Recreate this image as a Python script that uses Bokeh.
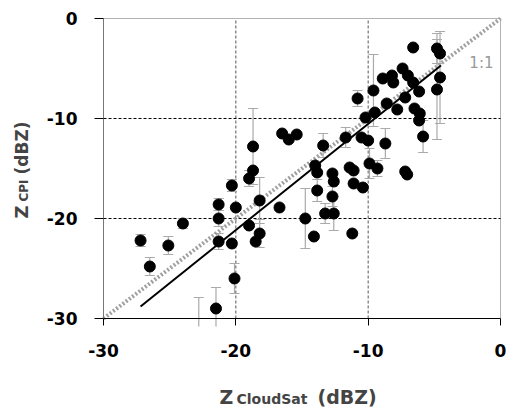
import math
from bokeh.plotting import figure
from bokeh.models import (Range1d, FixedTicker, Label, Whisker, TeeHead, ColumnDataSource,
                          BoxAnnotation)
from bokeh.embed import file_html
from bokeh.resources import INLINE

# ---- data ----
z_cloudsat = [-27.2, -26.5, -25.1, -24.0, -22.8, -21.5, -21.3, -21.3, -21.3, -20.3,
              -20.0, -20.3, -19.0, -18.7, -18.7, -18.2, -19.0, -18.2, -18.5, -16.7,
              -16.5, -16.0, -15.4, -14.75, -14.1, -14.0, -13.85, -13.85, -13.4, -12.7,
              -12.6, -12.7, -13.25, -12.6, -11.7, -11.4, -11.1, -11.2, -11.1, -10.4,
              -10.5, -10.0, -9.9, -9.3, -8.7, -10.2, -9.5, -10.8, -9.6, -8.9,
              -8.2, -7.4, -8.1, -7.0, -6.6, -6.15, -7.2, -7.8, -6.5, -6.1,
              -6.15, -8.6, -6.6, -4.8, -4.57, -4.57, -4.8, -5.85, -7.2, -7.05,
              -20.1]
z_cpi = [-22.2, -24.8, -22.7, -20.5, -31.1, -29.0, -18.6, -20.0, -22.3, -22.5,
         -18.9, -16.7, -16.0, -15.2, -12.8, -18.2, -20.7, -21.5, -22.3, -18.9,
         -11.5, -12.1, -11.6, -20.0, -21.8, -14.7, -15.4, -17.2, -12.7, -15.5,
         -16.3, -17.8, -19.5, -19.5, -11.9, -14.9, -15.2, -21.5, -16.5, -16.9,
         -11.9, -12.2, -14.5, -15.0, -12.5, -9.9, -9.4, -8.0, -7.2, -6.0,
         -5.7, -5.0, -6.4, -5.7, -6.4, -7.3, -7.9, -9.1, -9.0, -9.5,
         -10.2, -8.5, -2.9, -3.0, -3.5, -5.9, -7.1, -11.8, -15.3, -15.6,
         -26.0]
z_cpi_err = [0.6, 0.9, 0.9, 0.5, 3.2, 2.1, 0.6, 0.8, 0.8, 0.0,
             0.0, 0.6, 0.8, 0.0, 3.8, 2.3, 0.0, 1.4, 0.0, 0.0,
             0.0, 0.0, 0.0, 3.0, 0.0, 0.0, 0.0, 1.1, 1.2, 0.0,
             0.0, 1.0, 1.0, 1.7, 1.0, 0.0, 0.0, 0.0, 0.0, 0.0,
             0.0, 0.0, 1.5, 0.8, 1.5, 0.0, 0.0, 0.8, 3.6, 0.0,
             0.0, 0.0, 0.0, 0.0, 0.0, 0.0, 0.0, 0.0, 0.0, 0.0,
             0.0, 0.0, 0.0, 1.5, 0.0, 4.6, 5.0, 1.6, 0.0, 0.0,
             1.5]
one_to_one_x = [-30, 0]
one_to_one_y = [-30, 0]
fit_x = [-27.2, -4.5]
fit_y = [-28.8, -4.7]
ticks = [-30, -20, -10, 0]
tick_labels = {-30: "-30", -20: "-20", -10: "-10", 0: "0"}
axis_min, axis_max = -30, 0

FONT = "DejaVu Sans"
W, H = 508, 408
PX_LEFT, PX_RIGHT, PX_TOP, PX_BOTTOM = 103, 500, 18, 318   # plot box in the page
sx = (PX_RIGHT - PX_LEFT) / (axis_max - axis_min)
sy = (PX_BOTTOM - PX_TOP) / (axis_max - axis_min)
x_start = axis_min - PX_LEFT / sx
x_end = axis_max + (W - PX_RIGHT) / sx
y_end = axis_max + PX_TOP / sy
y_start = axis_min - (H - PX_BOTTOM) / sy
clip_y = axis_min - 8 / sy          # error bars are cut 8px below the box

def px_x(px):   # page pixel -> data x (for placing titles)
    return x_start + px / sx

def px_y(py):
    return y_end - py / sy

p = figure(frame_width=W, frame_height=H,
           min_border_left=0, min_border_right=0, min_border_top=0, min_border_bottom=0,
           x_range=Range1d(x_start, x_end), y_range=Range1d(y_start, y_end),
           output_backend="svg", toolbar_location=None,
           background_fill_color="white", border_fill_color="white")
p.outline_line_color = None
p.xgrid.visible = False
p.ygrid.visible = False

for ax in (p.xaxis[0], p.yaxis[0]):
    ax.fixed_location = axis_min
    ax.bounds = (axis_min, axis_max)
    ax.ticker = FixedTicker(ticks=ticks)
    ax.major_label_overrides = tick_labels
    ax.minor_tick_line_color = None
    ax.major_tick_in = 0
    ax.major_label_text_font = FONT
    ax.major_label_text_font_style = "bold"
    ax.major_label_text_font_size = "17px"
    ax.major_label_text_color = "black"
    ax.major_tick_line_color = "black"
    ax.axis_line_color = "black"
p.xaxis.major_tick_out = 7
p.xaxis.major_label_standoff = 18
p.yaxis.major_tick_out = 9
p.yaxis.major_label_standoff = 17
p.yaxis.axis_line_color = "#777777"

# grid lines inside the box only
inner = [t for t in ticks if axis_min < t < axis_max]
p.segment(x0=inner, y0=[axis_min] * len(inner), x1=inner, y1=[axis_max] * len(inner),
          line_color="#555555", line_dash="3 2", line_width=1, level="image")
p.segment(x0=[axis_min] * len(inner), y0=inner, x1=[axis_max] * len(inner), y1=inner,
          line_color="black", line_dash="3 2", line_width=1, level="image")

# plot box
p.add_layout(BoxAnnotation(left=axis_min, right=axis_max, bottom=axis_min, top=axis_max,
                           fill_color=None, fill_alpha=0, line_color="black", line_width=1,
                           level="underlay"))

# error bars (cut at the bottom edge like the original)
full = dict(x=[], lower=[], upper=[])
cut = dict(x=[], lower=[], upper=[])
for x, y, e in zip(z_cloudsat, z_cpi, z_cpi_err):
    if e <= 0:
        continue
    if y - e < clip_y:
        cut["x"].append(x); cut["lower"].append(clip_y); cut["upper"].append(y + e)
    else:
        full["x"].append(x); full["lower"].append(y - e); full["upper"].append(y + e)
EB = "#aaaaaa"
p.add_layout(Whisker(source=ColumnDataSource(full), base="x", lower="lower", upper="upper",
                     line_color=EB, line_width=1.2,
                     upper_head=TeeHead(size=10, line_color=EB, line_width=1.2),
                     lower_head=TeeHead(size=10, line_color=EB, line_width=1.2),
                     level="underlay"))
p.add_layout(Whisker(source=ColumnDataSource(cut), base="x", lower="lower", upper="upper",
                     line_color=EB, line_width=1.2,
                     upper_head=TeeHead(size=10, line_color=EB, line_width=1.2),
                     lower_head=None, level="underlay"))

# 1:1 line
p.line(one_to_one_x, one_to_one_y, line_color="#a0a0a0", line_width=4, line_dash="2 2")

# points inside the axes
vis = [(x, y) for x, y in zip(z_cloudsat, z_cpi) if y >= axis_min]
p.scatter([v[0] for v in vis], [v[1] for v in vis], size=11, marker="circle",
          fill_color="black", line_color="black")

# fit line
p.line(fit_x, fit_y, line_color="black", line_width=2)

p.add_layout(Label(x=-1.44, y=-4.4, text="1:1", text_font=FONT, text_font_size="15px",
                   text_color="#999999", text_align="center", text_baseline="alphabetic"))

def tlabel(x, y, text, size, angle=0.0):
    return Label(x=x, y=y, text=text, text_font=FONT, text_font_style="bold",
                 text_font_size=size, text_align="left", text_baseline="alphabetic",
                 angle=angle)

# x axis title
p.add_layout(tlabel(px_x(219), px_y(396), "Z", "19px"))
p.add_layout(tlabel(px_x(236), px_y(398), "CloudSat", "14px"))
p.add_layout(tlabel(px_x(317), px_y(396), "(dBZ)", "19px"))

# y axis title (rotated)
p.add_layout(tlabel(px_x(21), px_y(218), "Z", "18px", math.pi / 2))
p.add_layout(tlabel(px_x(23), px_y(201), "CPI", "12px", math.pi / 2))
p.add_layout(tlabel(px_x(21), px_y(174), "(dBZ)", "17px", math.pi / 2))

open("out.html", "w").write(file_html(p, INLINE))
